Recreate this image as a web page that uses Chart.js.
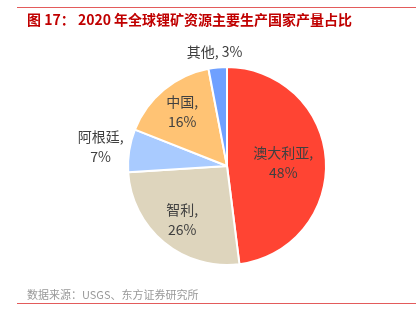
<!DOCTYPE html>
<html>
<head>
<meta charset="utf-8">
<script src="https://cdn.jsdelivr.net/npm/chart.js@4.4.1/dist/chart.umd.min.js"></script>
<style>
    body { margin: 0; background: #fff; font-family: "Noto Sans CJK SC", "Noto Sans", sans-serif; }
    #wrap { position: relative; width: 416px; height: 325px; overflow: hidden; }
    #chart { position: absolute; left: 0; top: 0; }
    .rule { position: absolute; left: 17px; right: 0; height: 1px; background: #e35b5b; }
    #title { position: absolute; left: 27px; top: 9px; font-size: 14px; font-weight: bold; color: #c00000; white-space: nowrap; }
    #source { position: absolute; left: 27px; top: 286px; font-size: 11px; color: #999; white-space: nowrap; }
</style>
</head>
<body>
<div id="wrap">
    <canvas id="chart" width="416" height="325"></canvas>
    <div class="rule" style="top:7px"></div>
    <div id="title">图 17： 2020 年全球锂矿资源主要生产国家产量占比</div>
    <div id="source">数据来源：USGS、东方证券研究所</div>
    <div class="rule" style="top:303px"></div>
</div>
<script>
const countries = ['澳大利亚', '智利', '阿根廷', '中国', '其他'];
const shares = [48, 26, 7, 16, 3];
const sliceColors = ['#ff4433', '#ded5bd', '#a9cbff', '#ffc374', '#6fa0ff'];

// slices smaller than this get their label outside the pie
const insideMin = 10;

const labelPlugin = {
    id: 'sliceLabels',
    afterDatasetsDraw(chart) {
        const ctx = chart.ctx;
        const arcs = chart.getDatasetMeta(0).data;
        ctx.save();
        ctx.font = '14px "Noto Sans CJK SC", sans-serif';
        ctx.fillStyle = '#404040';
        ctx.textAlign = 'center';
        ctx.textBaseline = 'middle';
        const lh = 20;
        arcs.forEach((arc, i) => {
            const { x, y, startAngle, endAngle, outerRadius } = arc.getProps(['x', 'y', 'startAngle', 'endAngle', 'outerRadius'], true);
            const mid = (startAngle + endAngle) / 2;
            const dx = Math.cos(mid), dy = Math.sin(mid);
            let lines, cx, cy;
            if (shares[i] >= insideMin) {
                lines = [countries[i] + ',', shares[i] + '%'];
                const r = outerRadius * (i === 0 ? 0.57 : 0.71);
                cx = x + dx * r;
                cy = y + dy * r;
            } else {
                lines = i === 4 ? [countries[i] + ', ' + shares[i] + '%'] : [countries[i] + ',', shares[i] + '%'];
                const w = Math.max(...lines.map(l => ctx.measureText(l).width));
                const h = lines.length * lh;
                const px = x + dx * (outerRadius + 6);
                const py = y + dy * (outerRadius + 6);
                cx = px + dx * w / 2;
                cy = py + dy * h / 2;
            }
            const top = cy - (lines.length - 1) * lh / 2;
            lines.forEach((l, k) => ctx.fillText(l, cx, top + k * lh));
        });
        ctx.restore();
    }
};

new Chart(document.getElementById('chart'), {
    type: 'pie',
    data: {
        labels: countries,
        datasets: [{
            data: shares,
            backgroundColor: sliceColors,
            borderColor: '#ffffff',
            borderWidth: 2
        }]
    },
    options: {
        responsive: false,
        animation: false,
        layout: { padding: { left: 127, right: 89, top: 66, bottom: 59 } },
        plugins: {
            legend: { display: false },
            tooltip: { enabled: false }
        }
    },
    plugins: [labelPlugin]
});
</script>
</body>
</html>
